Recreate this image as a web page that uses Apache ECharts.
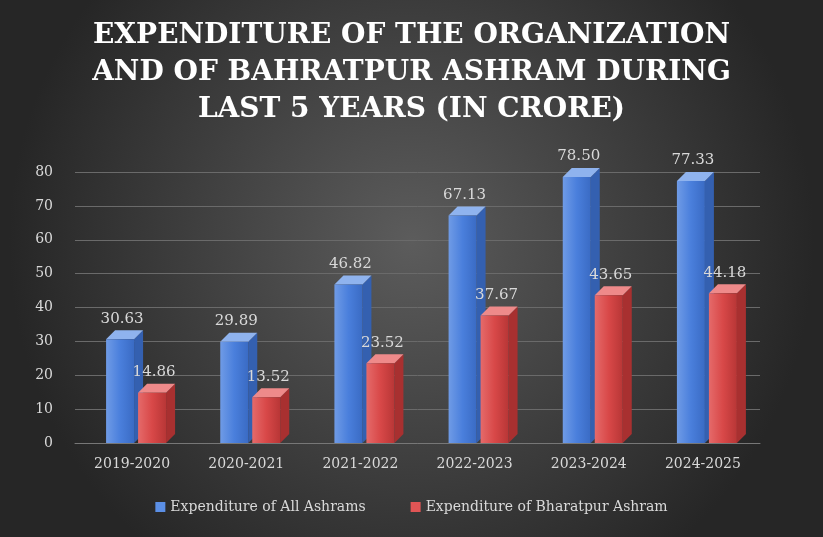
<!DOCTYPE html>
<html><head><meta charset="utf-8">
<script src="https://cdn.jsdelivr.net/npm/echarts@6/dist/echarts.min.js"></script>
<style>html,body{margin:0;padding:0;}#c{width:823px;height:537px;}</style>
</head><body><div id="c"></div>
<script>
const categories = ['2019-2020','2020-2021','2021-2022','2022-2023','2023-2024','2024-2025'];
const allAshrams = [30.63, 29.89, 46.82, 67.13, 78.50, 77.33];
const bharatpur = [14.86, 13.52, 23.52, 37.67, 43.65, 44.18];
const seriesNames = ['Expenditure of All Ashrams', 'Expenditure of Bharatpur Ashram'];

const chart = echarts.init(document.getElementById('c'));
const D = 9; // depth offset
function make3D(values, off, front, top, side, labelColor){
  return function(params, api){
    const idx = api.value(0), v = api.value(1);
    const p = api.coord([idx, v]);
    const p0 = api.coord([idx, 0]);
    const x0 = p[0] + off, x1 = x0 + 28;
    const yt = p[1], yb = p0[1];
    return {type:'group', children:[
      {type:'polygon', shape:{points:[[x1,yb],[x1+D,yb-D],[x1+D,yt-D],[x1,yt]]}, style:{fill:side}},
      {type:'polygon', shape:{points:[[x0,yt],[x0+D,yt-D],[x1+D,yt-D],[x1,yt]]}, style:{fill:top}},
      {type:'rect', shape:{x:x0, y:yt, width:28, height:yb-yt}, style:{fill:front}},
      {type:'text', style:{text:v.toFixed(2), x:(x0+x1)/2+2, y:yt-D-4, align:'center', verticalAlign:'bottom',
        fill:'#d9d9d9', font:'15px "DejaVu Serif"'}}
    ]};
  };
}
const blueFront = new echarts.graphic.LinearGradient(0,0,1,0,[{offset:0,color:'#6f9be6'},{offset:0.5,color:'#4a7fdc'},{offset:1,color:'#3a6bc4'}]);
const redFront = new echarts.graphic.LinearGradient(0,0,1,0,[{offset:0,color:'#e56a6a'},{offset:0.5,color:'#d84848'},{offset:1,color:'#b83636'}]);
chart.setOption({
  backgroundColor: new echarts.graphic.RadialGradient(0.5,0.45,0.75,[{offset:0,color:'#5c5c5c'},{offset:1,color:'#262626'}]),
  title:{text:'EXPENDITURE OF THE ORGANIZATION\nAND OF BAHRATPUR ASHRAM DURING\nLAST 5 YEARS (IN CRORE)', left:'center', top:12,
    textStyle:{color:'#ffffff', fontFamily:'DejaVu Serif', fontWeight:'bold', fontSize:28, lineHeight:37}},
  legend:{bottom:18, itemWidth:10, itemHeight:10, itemGap:45, textStyle:{color:'#d9d9d9', fontFamily:'DejaVu Serif', fontSize:14},
    data:[{name:seriesNames[0], icon:'rect', itemStyle:{color:'#5b8fe6'}},{name:seriesNames[1], icon:'rect', itemStyle:{color:'#e05555'}}]},
  grid:{left:75, right:63, top:172, bottom:94},
  xAxis:{type:'category', data:categories, axisTick:{show:false}, axisLine:{lineStyle:{color:'#777'}},
    axisLabel:{color:'#d9d9d9', fontFamily:'DejaVu Serif', fontSize:14, margin:14}},
  yAxis:{type:'value', min:0, max:80, interval:10, axisLine:{show:false},
    axisLabel:{color:'#d9d9d9', fontFamily:'DejaVu Serif', fontSize:14, margin:22},
    splitLine:{lineStyle:{color:'#6a6a6a'}}},
  series:[
    {name:seriesNames[0], type:'custom', renderItem:make3D(allAshrams,-26,blueFront,'#8fb3ee','#3460b0'),
      data:allAshrams.map((v,i)=>[i,v]), itemStyle:{color:'#5b8fe6'}},
    {name:seriesNames[1], type:'custom', renderItem:make3D(bharatpur,6,redFront,'#ee8a8a','#a83030'),
      data:bharatpur.map((v,i)=>[i,v]), itemStyle:{color:'#e05555'}}
  ]
});
</script></body></html>
